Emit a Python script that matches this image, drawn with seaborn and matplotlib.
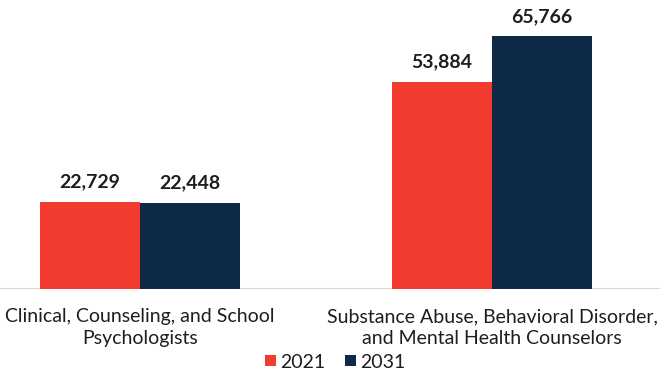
import matplotlib
matplotlib.use("Agg")
import matplotlib.pyplot as plt
import seaborn as sns
import pandas as pd

categories = ["Clinical, Counseling, and School\nPsychologists",
              "Substance Abuse, Behavioral Disorder,\nand Mental Health Counselors"]
years = ["2021", "2031"]
values_2021 = [22729, 53884]
values_2031 = [22448, 65766]

df = pd.DataFrame({
    "category": categories * 2,
    "year": [years[0]] * 2 + [years[1]] * 2,
    "value": values_2021 + values_2031,
})

sns.set_theme(style="white")
plt.rcParams["font.family"] = ["Lato", "DejaVu Sans"]

fig = plt.figure(figsize=(6.6, 3.73), dpi=100)
ax = fig.add_axes([0, 1 - 289 / 373, 1, 289 / 373])

palette = {"2021": "#f23c30", "2031": "#0e2a47"}
sns.barplot(data=df, x="category", y="value", hue="year", order=categories,
            hue_order=years, palette=palette, width=200 / 352, gap=0,
            saturation=1, ax=ax, legend=True, linewidth=0)

for c in ax.containers:
    ax.bar_label(c, labels=[f"{v:,.0f}" for v in c.datavalues], padding=8,
                 fontsize=14, fontweight="bold", color="#1e1e1e")

ax.set_ylim(0, 65766 * 289 / 253)
ax.set_xlim(-140 / 352, 1 + 168 / 352)
ax.axhline(0, color="#d6d6d6", lw=1.5, zorder=0)
for s in ax.spines.values():
    s.set_visible(False)
ax.set_yticks([])
ax.set_xlabel("")
ax.set_ylabel("")
ax.tick_params(axis="x", length=0, pad=14, labelsize=14, labelcolor="#1e1e1e")
for t in ax.get_xticklabels():
    t.set_linespacing(1.3)

handles, labels = ax.get_legend_handles_labels()
ax.legend_.remove()
fig.legend(handles, labels, loc="center", bbox_to_anchor=(0.508, 1 - 362 / 373),
           ncol=2, frameon=False, fontsize=14, handlelength=0.55, handleheight=0.55,
           handletextpad=0.25, columnspacing=1.0, labelcolor="#1e1e1e")

fig.savefig("out.png", dpi=100)
